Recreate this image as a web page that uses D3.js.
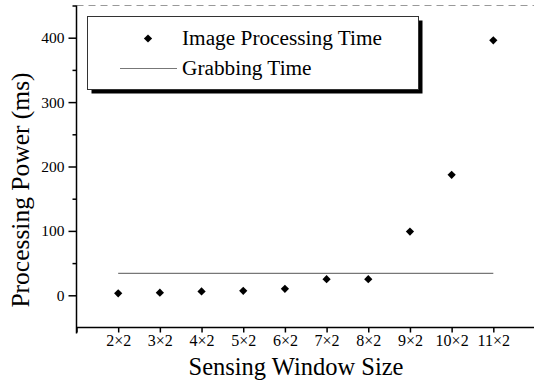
<!DOCTYPE html>
<html>
<head>
<meta charset="utf-8">
<script src="https://cdn.jsdelivr.net/npm/d3@7"></script>
<style>
  body { margin: 0; background: #fff; }
  text { font-family: "Liberation Serif", "Times New Roman", serif; fill: #000; }
</style>
</head>
<body>
<div id="chart"></div>
<script>
var width = 534,
    height = 381;

// data
var windowSizes = [2, 3, 4, 5, 6, 7, 8, 9, 10, 11];
var categories = ["2×2", "3×2", "4×2", "5×2", "6×2", "7×2", "8×2", "9×2", "10×2", "11×2"];
var processingTime = [3, 4, 6, 7, 10, 25, 25, 99, 187, 396];
var grabbingTime = [34, 34, 34, 34, 34, 34, 34, 34, 34, 34];
var yTicks = [0, 100, 200, 300, 400];
var yMinorTicks = [50, 150, 250, 350, 450];

var svg = d3.select("#chart").append("svg")
    .attr("width", width)
    .attr("height", height);

var x = d3.scaleLinear().domain([1, 12]).range([76.5, 535]);
var y = d3.scaleLinear().domain([-50, 450]).range([327.5, 5.5]);

// faint top frame
svg.append("line")
    .attr("x1", x(1)).attr("x2", x(12))
    .attr("y1", y(450)).attr("y2", y(450))
    .style("stroke", "#999")
    .style("stroke-width", 1)
    .style("stroke-dasharray", "7,5");

// y axis
var yAxis = svg.append("g")
    .attr("transform", "translate(" + x(1) + ",0)")
    .call(d3.axisLeft(y).tickValues(yTicks).tickSize(8).tickPadding(4).tickFormat(d3.format("d")));

svg.append("g")
    .attr("transform", "translate(" + x(1) + ",0)")
    .call(d3.axisLeft(y).tickValues(yMinorTicks).tickSize(4).tickFormat(""))
    .select(".domain").remove();

yAxis.select(".domain").attr("d", "M0," + (y(-50) + 6) + "V" + y(450));
yAxis.selectAll("text")
    .style("font-size", "15.5px")
    .style("font-family", "Liberation Serif");

// x axis
var xAxis = svg.append("g")
    .attr("transform", "translate(0," + y(-50) + ")")
    .call(d3.axisBottom(x).tickValues([1].concat(windowSizes)).tickSize(5).tickPadding(2.6)
        .tickFormat(function(d) { return d == 1 ? "" : categories[windowSizes.indexOf(d)]; }));

xAxis.select(".domain").attr("d", "M" + x(1) + ",0H" + x(12));
xAxis.selectAll("text")
    .style("font-size", "16px")
    .style("font-family", "Liberation Serif");

svg.selectAll(".domain, .tick line").style("stroke", "#000").style("stroke-width", 1.5);

// axis titles
svg.append("text")
    .attr("x", 296)
    .attr("y", 375)
    .attr("text-anchor", "middle")
    .style("font-size", "24.5px")
    .text("Sensing Window Size");

svg.append("text")
    .attr("transform", "translate(29,190) rotate(-90)")
    .attr("text-anchor", "middle")
    .style("font-size", "25.5px")
    .text("Processing Power (ms)");

// grabbing time line
var line = d3.line()
    .x(function(d, i) { return x(windowSizes[i]); })
    .y(function(d) { return y(d); });

svg.append("path")
    .datum(grabbingTime)
    .attr("d", line)
    .style("fill", "none")
    .style("stroke", "#777")
    .style("stroke-width", 1.2);

// image processing time points
var diamond = d3.symbol().type(d3.symbolSquare).size(34);

svg.selectAll(".point")
    .data(processingTime)
    .enter().append("path")
    .attr("class", "point")
    .attr("d", diamond)
    .attr("transform", function(d, i) {
        return "translate(" + x(windowSizes[i]) + "," + y(d) + ") rotate(45)";
    })
    .style("fill", "#000");

// legend
var legend = svg.append("g");

legend.append("rect")
    .attr("x", 91.5).attr("y", 20.5)
    .attr("width", 331).attr("height", 73)
    .style("fill", "#000");

legend.append("rect")
    .attr("x", 87.5).attr("y", 16.5)
    .attr("width", 331).attr("height", 73)
    .style("fill", "#fff")
    .style("stroke", "#333")
    .style("stroke-width", 1);

legend.append("path")
    .attr("d", diamond)
    .attr("transform", "translate(148,38.5) rotate(45)")
    .style("fill", "#000");

legend.append("text")
    .attr("x", 182).attr("y", 45)
    .style("font-size", "21.3px")
    .text("Image Processing Time");

legend.append("line")
    .attr("x1", 120).attr("x2", 177)
    .attr("y1", 68.5).attr("y2", 68.5)
    .style("stroke", "#777")
    .style("stroke-width", 1.2);

legend.append("text")
    .attr("x", 182).attr("y", 75)
    .style("font-size", "21.3px")
    .text("Grabbing Time");
</script>
</body>
</html>
